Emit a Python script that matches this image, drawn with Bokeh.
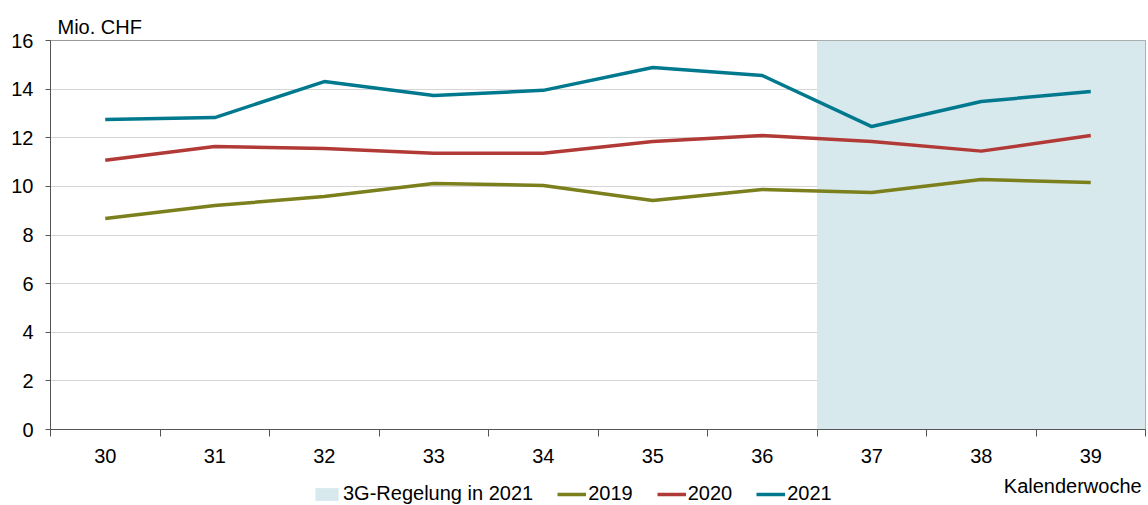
from bokeh.plotting import figure
from bokeh.layouts import column
from bokeh.models import Range1d, FixedTicker, Legend, LegendItem, Label
from bokeh.embed import file_html
from bokeh.resources import INLINE

weeks = ["30", "31", "32", "33", "34", "35", "36", "37", "38", "39"]
v2019 = [8.68, 9.21, 9.58, 10.12, 10.04, 9.42, 9.87, 9.75, 10.28, 10.16]
v2020 = [11.07, 11.64, 11.56, 11.36, 11.36, 11.85, 12.09, 11.85, 11.45, 12.09]
v2021 = [12.75, 12.83, 14.31, 13.74, 13.95, 14.89, 14.56, 12.46, 13.49, 13.90]
shade_weeks = ["37", "38", "39"]
y_ticks = [0, 2, 4, 6, 8, 10, 12, 14, 16]

FONT = "Liberation Sans"
FS = "20px"
C_SHADE = "#d8e9ee"
C19, C20, C21 = "#7b7f1c", "#b23a36", "#00798f"
xs = [i + 0.5 for i in range(len(weeks))]

W = 1148
H_MAIN = 470
H_LEG = 35

p = figure(width=W, height=H_MAIN, output_backend="svg", toolbar_location=None,
           x_range=Range1d(0, len(weeks)), y_range=Range1d(y_ticks[0], y_ticks[-1]),
           min_border_left=50, min_border_right=3, min_border_top=40, min_border_bottom=41)

p.title.text = "Mio. CHF"
p.title.text_font = FONT
p.title.text_font_size = FS
p.title.text_font_style = "normal"
p.title.text_color = "#000000"
p.title.align = "left"
p.title.offset = 7
p.title.standoff = 5

s0 = weeks.index(shade_weeks[0])
s1 = weeks.index(shade_weeks[-1]) + 1
p.quad(left=[s0], right=[s1], bottom=[y_ticks[0]], top=[y_ticks[-1]],
       fill_color=C_SHADE, line_color=None)

p.line(xs, v2019, line_color=C19, line_width=3.5)
p.line(xs, v2020, line_color=C20, line_width=3.5)
p.line(xs, v2021, line_color=C21, line_width=3.5)

p.outline_line_color = "#9a9a9a"
p.xgrid.visible = False
p.ygrid.ticker = FixedTicker(ticks=y_ticks)
p.ygrid.grid_line_color = "#d6d6d6"
p.ygrid.grid_line_width = 1

p.yaxis.ticker = FixedTicker(ticks=y_ticks)
p.yaxis.major_label_text_font = FONT
p.yaxis.major_label_text_font_size = FS
p.yaxis.major_label_text_color = "#000000"
p.yaxis.major_tick_in = 0
p.yaxis.major_tick_out = 5
p.yaxis.minor_tick_line_color = None
p.yaxis.axis_line_color = "#555555"
p.yaxis.major_tick_line_color = "#555555"
p.yaxis.major_label_standoff = 12

p.xaxis.ticker = FixedTicker(ticks=xs, minor_ticks=list(range(len(weeks) + 1)))
p.xaxis.major_label_overrides = {x: w for x, w in zip(xs, weeks)}
p.xaxis.major_label_text_font = FONT
p.xaxis.major_label_text_font_size = FS
p.xaxis.major_label_text_color = "#000000"
p.xaxis.major_tick_line_color = None
p.xaxis.minor_tick_in = 0
p.xaxis.minor_tick_out = 7
p.xaxis.minor_tick_line_color = "#555555"
p.xaxis.axis_line_color = "#555555"
p.xaxis.major_label_standoff = 12

# bottom strip: legend and axis title
q = figure(width=W, height=H_LEG, output_backend="svg", toolbar_location=None,
           x_range=Range1d(0, W), y_range=Range1d(0, H_LEG),
           x_axis_location=None, y_axis_location=None,
           min_border_left=0, min_border_right=0, min_border_top=0, min_border_bottom=0)
q.xgrid.visible = False
q.ygrid.visible = False
q.outline_line_color = None

# legend proxies drawn outside the visible range
g_shade = q.quad(left=[-20], right=[-10], bottom=[0], top=[1], fill_color=C_SHADE, line_color=None)
g19 = q.line([-20, -10], [0, 0], line_color=C19, line_width=3.5)
g20 = q.line([-20, -10], [0, 0], line_color=C20, line_width=3.5)
g21 = q.line([-20, -10], [0, 0], line_color=C21, line_width=3.5)

legend = Legend(items=[LegendItem(label="3G-Regelung in 2021", renderers=[g_shade]),
                       LegendItem(label="2019", renderers=[g19]),
                       LegendItem(label="2020", renderers=[g20]),
                       LegendItem(label="2021", renderers=[g21])],
                orientation="horizontal", location=(262, 0),
                label_text_font=FONT, label_text_font_size=FS, label_text_color="#000000",
                glyph_width=29, glyph_height=16, label_standoff=2, spacing=24,
                padding=0, margin=0, border_line_color=None, background_fill_alpha=0)
q.add_layout(legend)

lab = Label(x=1144, y=20, text="Kalenderwoche",
            text_font=FONT, text_font_size="20px", text_align="right",
            text_baseline="alphabetic", text_color="#000000")
q.add_layout(lab)

layout = column(p, q, spacing=0)
open("out.html", "w").write(file_html(layout, INLINE))
